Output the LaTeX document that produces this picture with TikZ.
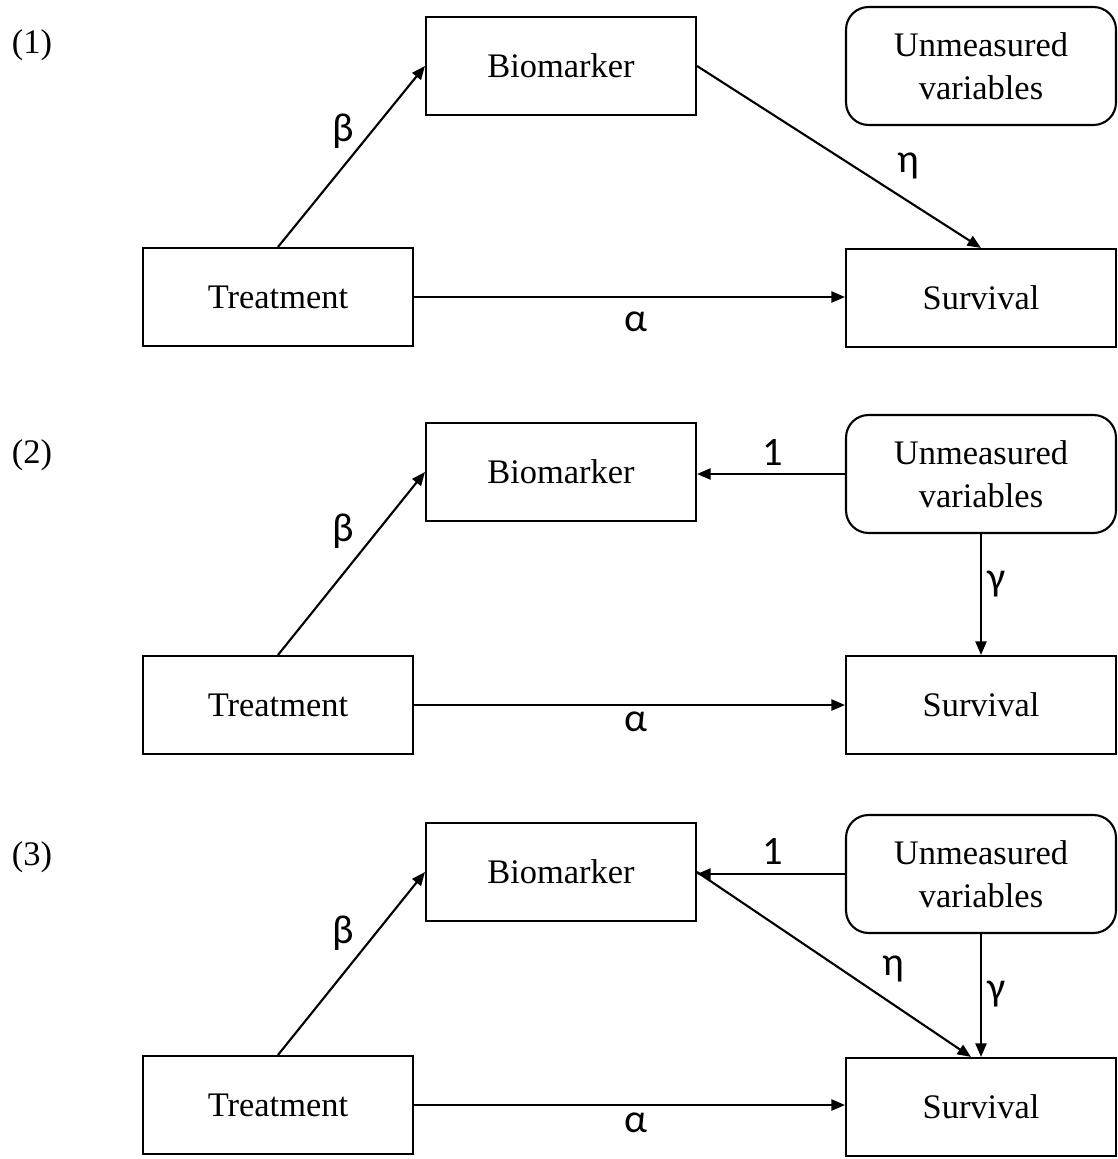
\documentclass[tikz,border=0pt]{standalone}
\usepackage{fontspec}
\setmainfont{Liberation Serif}
\newfontfamily\greekfont{Carlito}
\usetikzlibrary{arrows.meta,positioning}

\begin{document}
\begin{tikzpicture}[
    x=0.02cm, y=-0.02cm,
    box/.style={rectangle, draw, line width=1.2pt, minimum width=5.4cm, minimum height=1.96cm, font=\fontsize{19.6}{24.5}\selectfont},
    uvbox/.style={box, rounded corners=0.45cm, minimum height=2.36cm, align=center},
    coef/.style={font=\greekfont\fontsize{23}{26}\selectfont},
    tag/.style={font=\fontsize{19.6}{24}\selectfont},
    edge/.style={-{Triangle[length=0.27cm, width=0.22cm]}, line width=1.2pt}
]
    \useasboundingbox (0,0) rectangle (1118,1159);

    % panel (1)
    \node[tag] (p1) at (32,45) {(1)};
    \node[box] (bio1) at (561,66) {Biomarker};
    \node[uvbox] (uv1) at (981,66) {Unmeasured\\variables};
    \node[box] (trt1) at (278,297) {Treatment};
    \node[box] (surv1) at (981,298) {Survival};

    \draw[edge] (trt1.north) -- (bio1.west);
    \draw[edge] (bio1.east) -- (surv1.north);
    \draw[edge] (trt1.east) -- (trt1.east -| surv1.west);

    \node[coef] (b1) at (343,131) {β};
    \node[coef] (h1) at (908,166) {η};
    \node[coef] (a1) at (636,322) {α};

    % panel (2)
    \node[tag] (p2) at (32,455) {(2)};
    \node[box] (bio2) at (561,472) {Biomarker};
    \node[uvbox] (uv2) at (981,474) {Unmeasured\\variables};
    \node[box] (trt2) at (278,705) {Treatment};
    \node[box] (surv2) at (981,705) {Survival};

    \draw[edge] (trt2.north) -- (bio2.west);
    \draw[edge] (uv2.west) -- (uv2.west -| bio2.east);
    \draw[edge] (uv2.south) -- (surv2.north);
    \draw[edge] (trt2.east) -- (trt2.east -| surv2.west);

    \node[coef] (b2) at (343,531) {β};
    \node[coef] (one2) at (773,452) {1};
    \node[coef] (g2) at (997,584) {γ};
    \node[coef] (a2) at (636,722) {α};

    % panel (3)
    \node[tag] (p3) at (32,857) {(3)};
    \node[box] (bio3) at (561,872) {Biomarker};
    \node[uvbox] (uv3) at (981,874) {Unmeasured\\variables};
    \node[box] (trt3) at (278,1105) {Treatment};
    \node[box] (surv3) at (981,1107) {Survival};

    \draw[edge] (trt3.north) -- (bio3.west);
    \draw[edge] (uv3.west) -- (uv3.west -| bio3.east);
    \draw[edge] (bio3.east) -- ([xshift=-0.2cm]surv3.north);
    \draw[edge] (uv3.south) -- (surv3.north);
    \draw[edge] (trt3.east) -- (trt3.east -| surv3.west);

    \node[coef] (b3) at (343,933) {β};
    \node[coef] (one3) at (773,851) {1};
    \node[coef] (h3) at (893,969) {η};
    \node[coef] (g3) at (997,994) {γ};
    \node[coef] (a3) at (636,1123) {α};
\end{tikzpicture}
\end{document}
